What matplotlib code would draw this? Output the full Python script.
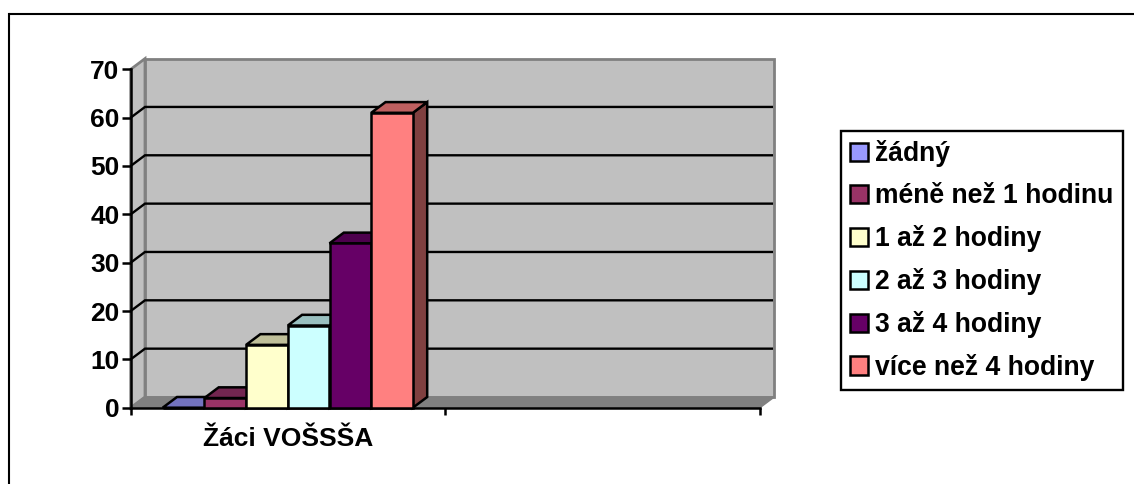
import matplotlib
matplotlib.use("Agg")
import matplotlib.pyplot as plt
from matplotlib.lines import Line2D
from matplotlib.patches import Polygon

categories = ["Žáci VOŠSŠA", ""]
series_names = ["žádný", "méně než 1 hodinu", "1 až 2 hodiny",
                "2 až 3 hodiny", "3 až 4 hodiny", "více než 4 hodiny"]
series_values = [0, 2, 13, 17, 34, 61]
series_colors = ["#9999FF", "#993366", "#FFFFCC", "#CCFFFF", "#660066", "#FF8080"]
top_colors = ["#7373BF", "#732650", "#BFBF99", "#99BFBF", "#4D004D", "#BF6060"]
side_colors = ["#4D4D80", "#4D1A33", "#808066", "#668080", "#330033", "#804040"]
y_ticks = [0, 10, 20, 30, 40, 50, 60, 70]

W, H = 1134, 484
plt.rcParams["font.family"] = ["Liberation Sans", "DejaVu Sans"]
plt.rcParams["font.weight"] = "bold"

fig = plt.figure(figsize=(W / 100, H / 100), dpi=100, facecolor="white")
ax = fig.add_axes([130.7 / W, 1 - 407.7 / H, 629.3 / W, 338.4 / H])
ax.set_xlim(0, 2)
ax.set_ylim(0, 70)
ax.patch.set_visible(False)

# depth of the fake 3d box, in data units
dx = 14.3 / 314.65
dy = 10.7 / 4.834
grey = "#808080"

# walls and floor
ax.add_patch(Polygon([(0, 0), (dx, dy), (dx, 70 + dy), (0, 70)], closed=True,
                     fc="#C0C0C0", ec=grey, lw=2, clip_on=False, zorder=1))
ax.add_patch(Polygon([(dx, dy), (2 + dx, dy), (2 + dx, 70 + dy), (dx, 70 + dy)],
                     closed=True, fc="#C0C0C0", ec=grey, lw=2, clip_on=False, zorder=1))
ax.add_patch(Polygon([(0, 0), (dx, dy), (2 + dx, dy), (2, 0)], closed=True,
                     fc=grey, ec=grey, lw=1, clip_on=False, zorder=1))

# gridlines go along the side wall and the back wall
for t in y_ticks[1:-1]:
    ax.plot([0, dx, 2 + dx - 0.004], [t, t + dy, t + dy], color="black", lw=1.7,
            solid_joinstyle="miter", solid_capstyle="butt", clip_on=False, zorder=2)

bar_w = 41.7 / 314.65
bar_start = 32.0 / 314.65
z = 3
handles = []
for i, v in enumerate(series_values):
    x0 = bar_start + i * bar_w
    x1 = x0 + bar_w
    ax.add_patch(Polygon([(x1, 0), (x1 + dx, dy), (x1 + dx, v + dy), (x1, v)], closed=True,
                         fc=side_colors[i], ec="black", lw=1.8, clip_on=False, zorder=z))
    ax.add_patch(Polygon([(x0, v), (x0 + dx, v + dy), (x1 + dx, v + dy), (x1, v)], closed=True,
                         fc=top_colors[i], ec="black", lw=1.8, clip_on=False, zorder=z))
    b = ax.bar(x0, v, width=bar_w, align="edge", color=series_colors[i], edgecolor="black",
               linewidth=1.8, clip_on=False, zorder=z, label=series_names[i])
    handles.append(b)
    z += 1

for s in ["top", "right"]:
    ax.spines[s].set_visible(False)
for s in ["left", "bottom"]:
    ax.spines[s].set_linewidth(1.8)
    ax.spines[s].set_zorder(2.5)

ax.set_yticks(y_ticks)
ax.set_xticks([0, 1, 2], labels=[])
ax.set_xticks([0.5, 1.5], labels=categories, minor=True)
ax.tick_params(axis="y", length=6.5, width=1.8, pad=1.5, labelsize=19)
ax.tick_params(axis="x", which="major", length=5, width=1.8)
ax.tick_params(axis="x", which="minor", length=0, pad=14, labelsize=19)

leg = ax.legend(handles=handles, labels=series_names, loc="upper left",
                bbox_to_anchor=(840.7 / W, 1 - 130.7 / H),
                bbox_transform=fig.transFigure, borderaxespad=0,
                prop={"size": 19.1, "weight": "bold"}, frameon=True, fancybox=False,
                framealpha=1, edgecolor="black", labelspacing=0.6,
                handlelength=0.68, handleheight=0.68, handletextpad=0.27, borderpad=0.36)
leg.get_frame().set_linewidth(1.7)
leg.set_zorder(20)

# outer frame: only the top and left edges fall inside the picture
fig.add_artist(Line2D([9.5 / W, 1], [1 - 14 / H, 1 - 14 / H], color="black", lw=1.5))
fig.add_artist(Line2D([9 / W, 9 / W], [0, 1 - 14 / H], color="black", lw=1.5))

fig.savefig("out.png", dpi=100)
